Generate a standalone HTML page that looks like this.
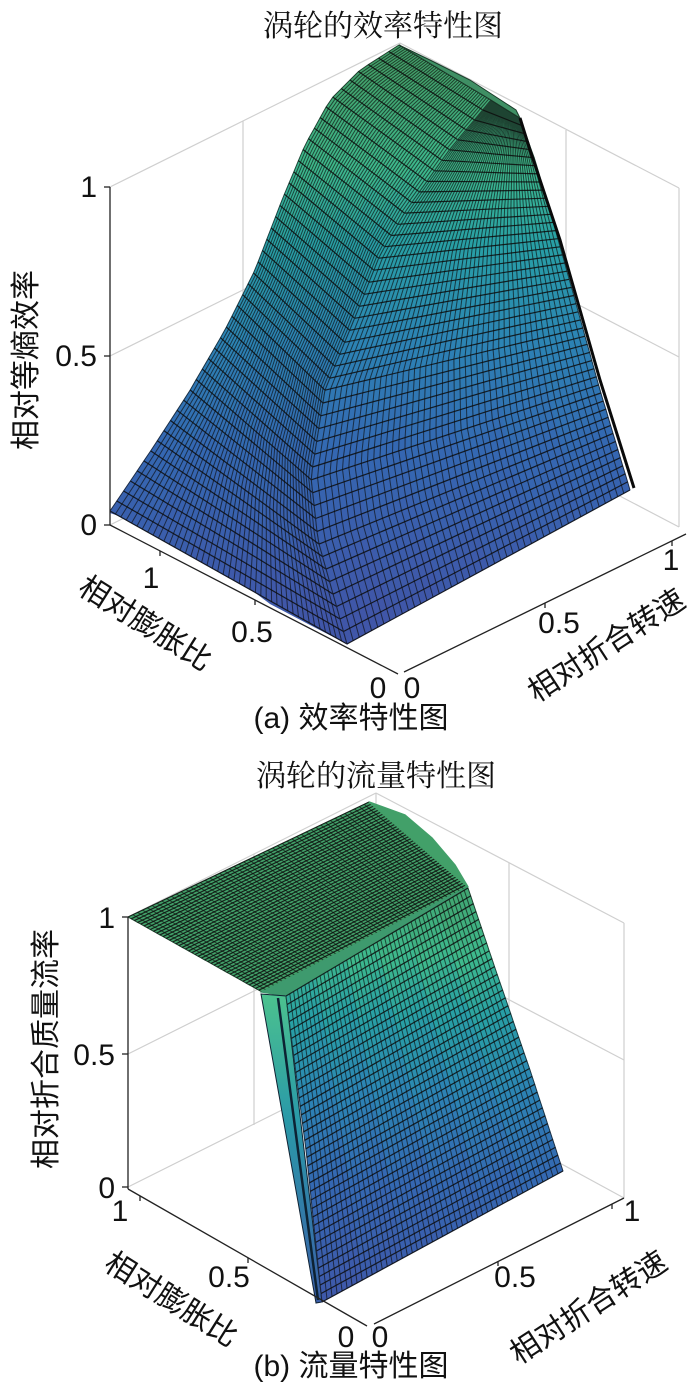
<!DOCTYPE html>
<html><head><meta charset="utf-8">
<style>
html,body{margin:0;padding:0;background:#fff;}
svg{display:block;}
text{font-family:"Liberation Sans","Noto Sans CJK SC",sans-serif;fill:#111;}
.t{font-family:"Liberation Serif","Noto Serif CJK SC",serif;}
</style></head>
<body>
<svg id="s" width="700" height="1398" viewBox="0 0 700 1398" xmlns="http://www.w3.org/2000/svg">
<g id="grid" stroke="#cfcfcf" stroke-width="1.2" fill="none">
 <line x1="110" y1="187" x2="400" y2="43"/>
 <line x1="400" y1="43" x2="679" y2="188"/>
 <line x1="110" y1="356" x2="400" y2="212"/>
 <line x1="400" y1="212" x2="679" y2="357"/>
 <line x1="110" y1="525" x2="400" y2="381"/>
 <line x1="400" y1="381" x2="679" y2="527"/>
 <line x1="243" y1="121" x2="243" y2="459"/>
 <line x1="400" y1="43" x2="400" y2="381"/>
 <line x1="566" y1="130" x2="566" y2="468"/>
 <line x1="679" y1="188" x2="679" y2="527"/>
 <line x1="128" y1="917" x2="376" y2="793"/>
 <line x1="376" y1="793" x2="624" y2="923"/>
 <line x1="128" y1="1054" x2="376" y2="930"/>
 <line x1="376" y1="930" x2="624" y2="1060"/>
 <line x1="128" y1="1187" x2="376" y2="1063"/>
 <line x1="376" y1="1063" x2="624" y2="1198"/>
 <line x1="254" y1="854" x2="254" y2="1125"/>
 <line x1="376" y1="793" x2="376" y2="1063"/>
 <line x1="509" y1="863" x2="509" y2="1138"/>
 <line x1="624" y1="923" x2="624" y2="1198"/>
</g>
<g id="surf"></g>
<g stroke="#222" stroke-width="1.3" fill="none">
 <line x1="110" y1="187" x2="110" y2="525"/>
 <line x1="104" y1="187" x2="110" y2="187"/><line x1="104" y1="356" x2="110" y2="356"/><line x1="104" y1="525" x2="110" y2="525"/>
 <line x1="110" y1="525" x2="398" y2="674"/>
 <line x1="404" y1="672" x2="686" y2="534"/>
 <line x1="160" y1="551" x2="160" y2="556"/><line x1="255" y1="600" x2="255" y2="605"/>
 <line x1="545" y1="603" x2="545" y2="608"/><line x1="672" y1="541" x2="672" y2="546"/>
 <line x1="128" y1="917" x2="128" y2="1189"/>
 <line x1="122" y1="917" x2="128" y2="917"/><line x1="122" y1="1054" x2="128" y2="1054"/><line x1="122" y1="1187" x2="128" y2="1187"/>
 <line x1="128" y1="1189" x2="367" y2="1326"/>
 <line x1="374" y1="1324" x2="624" y2="1198"/>
 <line x1="140" y1="1196" x2="140" y2="1201"/><line x1="248" y1="1258" x2="248" y2="1263"/>
 <line x1="498" y1="1261" x2="498" y2="1266"/><line x1="612" y1="1204" x2="612" y2="1209"/>
</g>
<g font-size="30">
 <text class="t" x="383" y="36" text-anchor="middle" font-size="30">涡轮的效率特性图</text>
 <text x="97" y="197" text-anchor="end">1</text>
 <text x="97" y="366" text-anchor="end">0.5</text>
 <text x="97" y="535" text-anchor="end">0</text>
 <text x="151" y="588" text-anchor="middle">1</text>
 <text x="252" y="642" text-anchor="middle">0.5</text>
 <text x="378" y="698" text-anchor="middle">0</text>
 <text x="412" y="698" text-anchor="middle">0</text>
 <text x="559" y="633" text-anchor="middle">0.5</text>
 <text x="671" y="570" text-anchor="middle">1</text>
 <text transform="translate(36,360) rotate(-90)" text-anchor="middle">相对等熵效率</text>
 <text transform="translate(140,632) rotate(32)" text-anchor="middle">相对膨胀比</text>
 <text transform="translate(612,654) rotate(-33)" text-anchor="middle">相对折合转速</text>
 <text x="351" y="728" text-anchor="middle">(a) 效率特性图</text>

 <text class="t" x="376" y="786" text-anchor="middle">涡轮的流量特性图</text>
 <text x="115" y="928" text-anchor="end">1</text>
 <text x="115" y="1065" text-anchor="end">0.5</text>
 <text x="115" y="1198" text-anchor="end">0</text>
 <text x="120" y="1221" text-anchor="middle">1</text>
 <text x="229" y="1287" text-anchor="middle">0.5</text>
 <text x="346" y="1347" text-anchor="middle">0</text>
 <text x="380" y="1347" text-anchor="middle">0</text>
 <text x="515" y="1287" text-anchor="middle">0.5</text>
 <text x="632" y="1221" text-anchor="middle">1</text>
 <text transform="translate(56,1049) rotate(-90)" text-anchor="middle">相对折合质量流率</text>
 <text transform="translate(166,1308) rotate(32)" text-anchor="middle">相对膨胀比</text>
 <text transform="translate(594,1316) rotate(-33)" text-anchor="middle">相对折合转速</text>
 <text x="351" y="1376" text-anchor="middle">(b) 流量特性图</text>
</g>
</svg>
<script>
(function(){
var NS="http://www.w3.org/2000/svg",g=document.getElementById("surf");
function el(t,a){var e=document.createElementNS(NS,t);for(var k in a)e.setAttribute(k,a[k]);g.appendChild(e);return e;}
function resample(p,n){var L=[0];for(var i=1;i<p.length;i++){L.push(L[i-1]+Math.hypot(p[i][0]-p[i-1][0],p[i][1]-p[i-1][1]));}
 var T=L[L.length-1],out=[];for(var j=0;j<=n;j++){var d=T*j/n,k=1;while(k<p.length-1&&L[k]<d)k++;var s=(d-L[k-1])/((L[k]-L[k-1])||1);
 out.push([p[k-1][0]+(p[k][0]-p[k-1][0])*s,p[k-1][1]+(p[k][1]-p[k-1][1])*s]);}return out;}
var stops=[[0,[64,86,168]],[0.3,[52,104,178]],[0.5,[44,132,180]],[0.68,[40,160,165]],[0.82,[62,185,140]],[1,[66,160,105]]];
function col(h){h=Math.max(0,Math.min(1,h));for(var i=1;i<stops.length;i++){if(h<=stops[i][0]){var a=stops[i-1],b=stops[i],t=(h-a[0])/(b[0]-a[0]);
 return "rgb("+[0,1,2].map(function(c){return Math.round(a[1][c]+(b[1][c]-a[1][c])*t);}).join(",")+")";}}return "rgb(66,160,105)";}
function P(a){return a.map(function(p){return p[0].toFixed(1)+","+p[1].toFixed(1);}).join(" ");}
function face(A,B,nu,nv,hf){var a=resample(A,nu),b=resample(B,nu);
 function pt(i,j){var t=j/nv;return [a[i][0]+(b[i][0]-a[i][0])*t,a[i][1]+(b[i][1]-a[i][1])*t];}
 var cs=6;
 for(var i=0;i<nu;i++){for(var c=0;c<cs;c++){var j0=c*nv/cs,j1=(c+1)*nv/cs;var p1=pt(i,j0),p2=pt(i,j1),p3=pt(i+1,j1),p4=pt(i+1,j0);
  var cx=(p1[0]+p3[0])/2,cy=(p1[1]+p3[1])/2;var f=col(hf(cx,cy));
  el("polygon",{points:P([p1,p2,p3,p4]),fill:f,stroke:f,"stroke-width":"0.8"});}}
 var d="";for(var i=0;i<=nu;i++){d+="M"+a[i][0].toFixed(1)+","+a[i][1].toFixed(1)+"L"+b[i][0].toFixed(1)+","+b[i][1].toFixed(1);}
 el("path",{d:d,stroke:"#0d0d0d","stroke-width":"1.2","stroke-opacity":"0.85",fill:"none"});
 var d2="";for(var j=0;j<=nv;j++){d2+="M";for(var i=0;i<=nu;i++){var q=pt(i,j);d2+=(i?"L":"")+q[0].toFixed(1)+","+q[1].toFixed(1);}}
 el("path",{d:d2,stroke:"#0d0d0d","stroke-width":"1","stroke-opacity":"0.65",fill:"none"});}
// Chart a
var hA=function(x,y){return (610-y)/540;};
var silA=[[110,511],[150,452],[189,392],[225,330],[255,270],[282,200],[305,145],[330,100],[360,70],[399,45]];
var wavy=[[110,513],[160,530],[216,559],[245,585],[270,604],[310,625],[347,644]];
var crease=[[347,644],[318,540],[311,477],[325,390],[356,315],[380,255],[405,212],[450,149],[491,100]];
var rightA=[[630,490],[600,390],[575,300],[554,225],[535,160],[520,118]];
el("polygon",{points:P(wavy.concat([[110,511]])),fill:col(0.05)});
face(silA,crease,46,44,hA);
face(crease,rightA,46,46,hA);
el("polygon",{points:P([[399,45],[491,100],[520,118],[516,110],[470,80],[430,60]]),fill:"#3f8f64",stroke:"#1a3a28","stroke-width":"1"});
el("polyline",{points:P([[520,118],[530,150],[560,240],[600,380],[634,488]]),stroke:"#0a0a0a","stroke-width":"3",fill:"none"});
// Chart b
var hB=function(x,y){return 0.02+(1300-y)/430;};
el("polygon",{points:P([[128,917],[369,802],[405,815],[432,838],[455,865],[468,887],[286,996],[262,992]]),fill:col(1)});
face([[128,917],[262,992]],[[369,802],[468,887]],42,50,function(){return 1.0;});
el("polygon",{points:P([[369,802],[405,815],[432,838],[455,865],[468,887]]),fill:col(1),stroke:col(1),"stroke-width":"1.5"});
el("polygon",{points:P([[262,992],[286,996],[468,887]]),fill:"#3e9a6e",stroke:"#3e9a6e","stroke-width":"1.5"});
var cl=document.createElementNS(NS,"linearGradient");cl.setAttribute("id","cg");cl.setAttribute("x1","0");cl.setAttribute("y1","0");cl.setAttribute("x2","0");cl.setAttribute("y2","1");
[["0","#4cc28e"],["0.4","#2a9aa8"],["1","#3a5ea8"]].forEach(function(s){var st=document.createElementNS(NS,"stop");st.setAttribute("offset",s[0]);st.setAttribute("stop-color",s[1]);cl.appendChild(st);});
var defs=document.createElementNS(NS,"defs");defs.appendChild(cl);g.appendChild(defs);
el("polygon",{points:P([[261,994],[286,996],[322,1302],[316,1303]]),fill:"url(#cg)",stroke:"#123","stroke-width":"1"});
el("polyline",{points:P([[278,998],[298,1150],[318,1300]]),stroke:"#0d2233","stroke-width":"2.5",fill:"none"});
face([[322,1302],[306,1150],[286,996]],[[563,1171],[530,1070],[495,968],[468,888]],36,48,hB);
})();
</script>
</body></html>
